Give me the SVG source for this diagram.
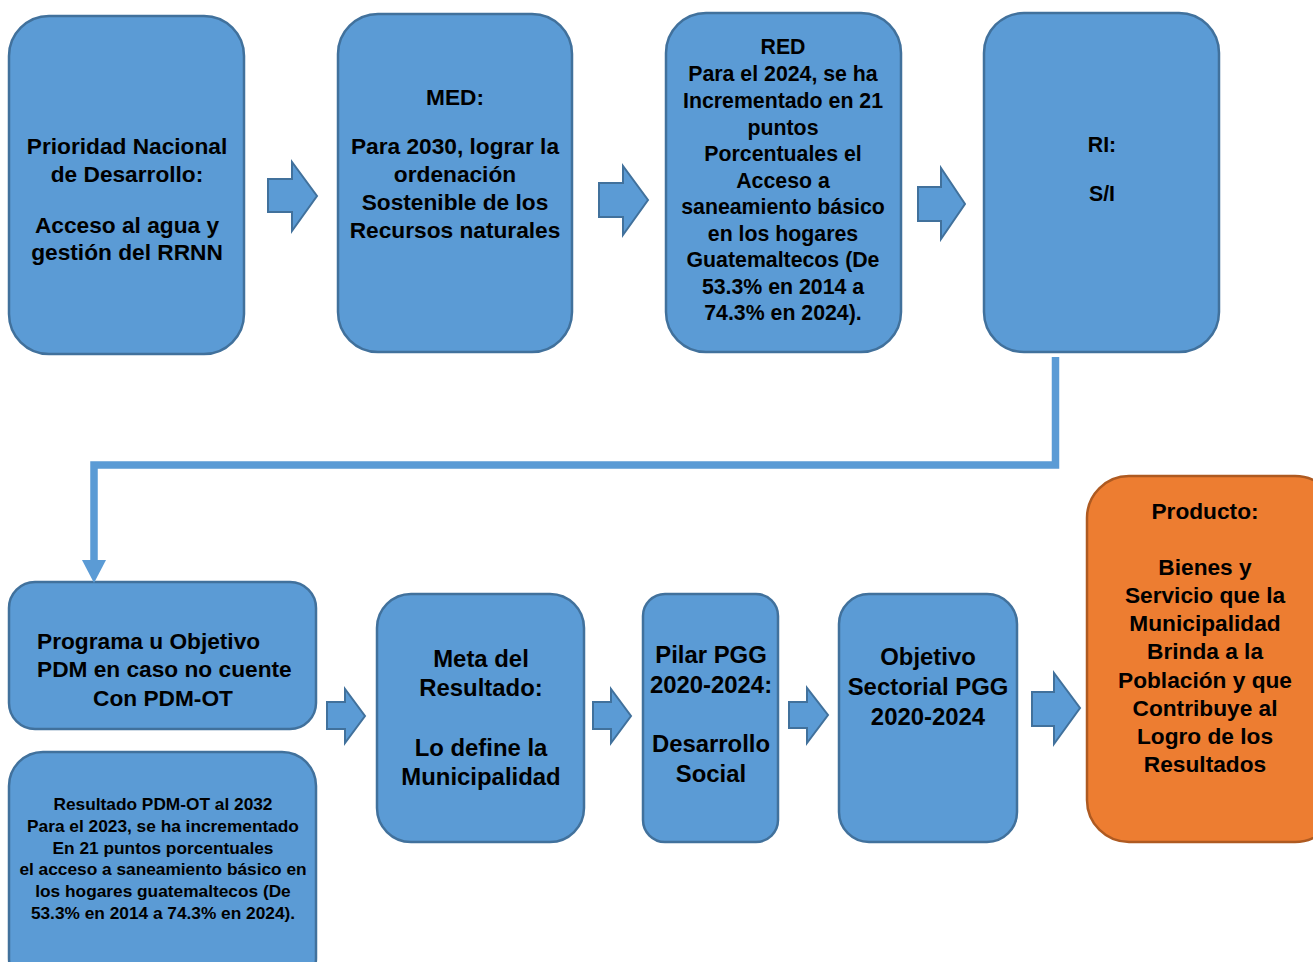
<svg xmlns="http://www.w3.org/2000/svg" width="1313" height="962" viewBox="0 0 1313 962">
<style>
.box{fill:#5B9BD5;stroke:#41719C;stroke-width:2.5}
.org{fill:#ED7D31;stroke:#AE5A21;stroke-width:2.5}
.arr{fill:#5B9BD5;stroke:#41719C;stroke-width:2}
text{font-family:"Liberation Sans",Arial,sans-serif;font-weight:bold;fill:#000;text-anchor:middle}
.t20{font-size:22.7px}
.t19{font-size:21.3px}
.t21{font-size:23.9px}
.t15{font-size:17.3px}
.conn{fill:none;stroke:#5B9BD5;stroke-width:7.5}
</style>
<rect width="1313" height="962" fill="#fff"/>
<g id="n1"><rect class="box" x="9" y="16" width="235" height="338" rx="40"/>
<text class="t20"><tspan x="127" y="154">Prioridad Nacional</tspan><tspan x="127" y="182">de Desarrollo:</tspan><tspan x="127" y="233">Acceso al agua y</tspan><tspan x="127" y="260">gestión del RRNN</tspan></text></g>
<g id="n2"><rect class="box" x="338" y="14" width="234" height="338" rx="40"/>
<text class="t20"><tspan x="455" y="105">MED:</tspan><tspan x="455" y="154">Para 2030, lograr la</tspan><tspan x="455" y="182">ordenación</tspan><tspan x="455" y="210">Sostenible de los</tspan><tspan x="455" y="238">Recursos naturales</tspan></text></g>
<g id="n3"><rect class="box" x="666" y="13" width="235" height="339" rx="40"/>
<text class="t19"><tspan x="783" y="53.5">RED</tspan><tspan x="783" y="80.5">Para el 2024, se ha</tspan><tspan x="783" y="107.5">Incrementado en 21</tspan><tspan x="783" y="134.5">puntos</tspan><tspan x="783" y="160.5">Porcentuales el</tspan><tspan x="783" y="187.5">Acceso a</tspan><tspan x="783" y="213.5">saneamiento básico</tspan><tspan x="783" y="240.5">en los hogares</tspan><tspan x="783" y="266.5">Guatemaltecos (De</tspan><tspan x="783" y="293.5">53.3% en 2014 a</tspan><tspan x="783" y="319.5">74.3% en 2024).</tspan></text></g>
<g id="n4"><rect class="box" x="984" y="13" width="235" height="339" rx="40"/>
<text class="t19"><tspan x="1102" y="151.5">RI:</tspan><tspan x="1102" y="200.5">S/I</tspan></text></g>
<g id="n5"><rect class="box" x="9" y="582" width="307" height="147" rx="26"/>
<text class="t20"><tspan x="37" y="649" text-anchor="start">Programa u Objetivo</tspan><tspan x="37" y="677" text-anchor="start">PDM en caso no cuente</tspan><tspan x="163" y="706">Con PDM-OT</tspan></text></g>
<g id="n6"><rect class="box" x="9" y="752" width="307" height="240" rx="34"/>
<text class="t15"><tspan x="163" y="810">Resultado PDM-OT al 2032</tspan><tspan x="163" y="832">Para el 2023, se ha incrementado</tspan><tspan x="163" y="854">En 21 puntos porcentuales</tspan><tspan x="163" y="875">el acceso a saneamiento básico en</tspan><tspan x="163" y="897">los hogares guatemaltecos (De</tspan><tspan x="163" y="919">53.3% en 2014 a 74.3% en 2024).</tspan></text></g>
<g id="n7"><rect class="box" x="377" y="594" width="207" height="248" rx="34"/>
<text class="t21"><tspan x="481" y="667">Meta del</tspan><tspan x="481" y="696">Resultado:</tspan><tspan x="481" y="756">Lo define la</tspan><tspan x="481" y="785">Municipalidad</tspan></text></g>
<g id="n8"><rect class="box" x="643" y="594" width="135" height="248" rx="22"/>
<text class="t21"><tspan x="711" y="663">Pilar PGG</tspan><tspan x="711" y="693">2020-2024:</tspan><tspan x="711" y="752">Desarrollo</tspan><tspan x="711" y="782">Social</tspan></text></g>
<g id="n9"><rect class="box" x="839" y="594" width="178" height="248" rx="30"/>
<text class="t21"><tspan x="928" y="665">Objetivo</tspan><tspan x="928" y="695">Sectorial PGG</tspan><tspan x="928" y="725">2020-2024</tspan></text></g>
<g id="n10"><rect class="org" x="1087" y="476" width="250" height="366" rx="42"/>
<text class="t20"><tspan x="1205" y="519">Producto:</tspan><tspan x="1205" y="575">Bienes y</tspan><tspan x="1205" y="603">Servicio que la</tspan><tspan x="1205" y="631">Municipalidad</tspan><tspan x="1205" y="659">Brinda a la</tspan><tspan x="1205" y="688">Población y que</tspan><tspan x="1205" y="716">Contribuye al</tspan><tspan x="1205" y="744">Logro de los</tspan><tspan x="1205" y="772">Resultados</tspan></text></g>
<g id="connectors">
<path class="arr" d="M268,179 H292 V162 L317,196 L292,231 V212 H268 Z"/>
<path class="arr" d="M599,183 H623 V166 L648,200 L623,235 V217 H599 Z"/>
<path class="arr" d="M918,187 H941 V168 L965,204 L941,239 V221 H918 Z"/>
<path class="arr" d="M327,702 H345 V689 L365,716 L345,743 V729 H327 Z"/>
<path class="arr" d="M593,702 H611 V689 L631,716 L611,743 V729 H593 Z"/>
<path class="arr" d="M789,702 H807 V688 L828,715 L807,743 V728 H789 Z"/>
<path class="arr" d="M1032,692 H1054 V673 L1080,708 L1054,744 V726 H1032 Z"/>
<path class="conn" d="M1055.5,357 V465 H94 V562"/>
<path d="M82,560 H106 L94,583 Z" fill="#5B9BD5"/>
</g>
</svg>
